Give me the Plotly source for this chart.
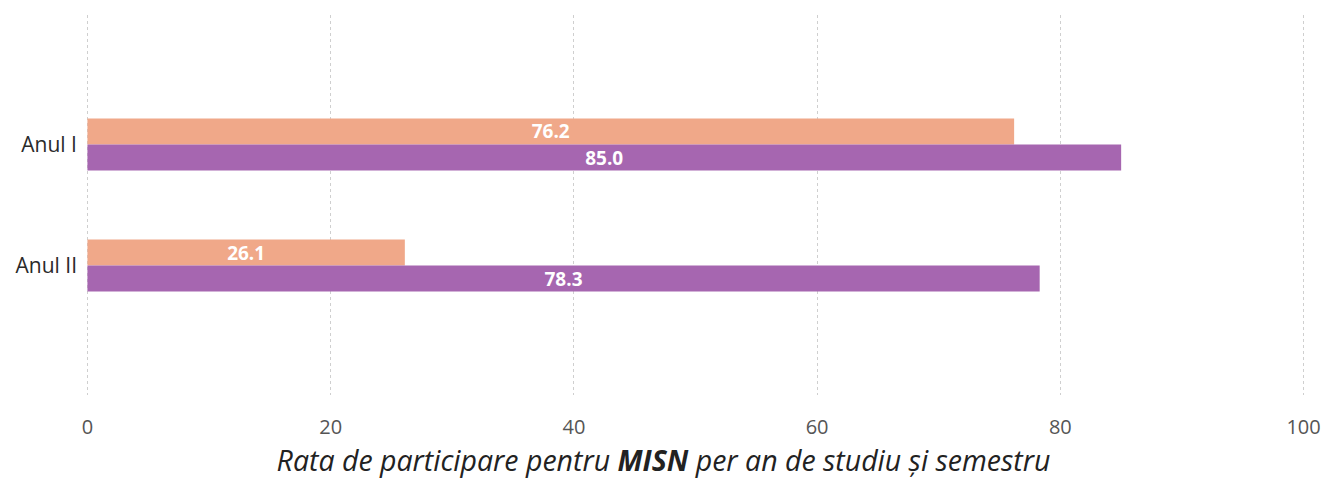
import plotly.graph_objects as go

categories = ["Anul I", "Anul II"]
sem1 = [76.2, 26.1]
sem2 = [85.0, 78.3]
series_names = ["Semestrul I", "Semestrul II"]
tick_vals = [0, 20, 40, 60, 80, 100]
title_text = "<i>Rata de participare pentru <b>MISN</b> per an de studiu și semestru</i>"

fig = go.Figure()
for name, vals, color in [(series_names[0], sem1, "#F0A889"), (series_names[1], sem2, "#A666B0")]:
    fig.add_trace(go.Bar(
        y=categories, x=vals, name=name, orientation="h",
        marker=dict(color=color, line=dict(width=0)),
        text=[f"{v:.1f}" for v in vals], textposition="inside",
        insidetextanchor="middle", constraintext="none",
        textfont=dict(color="white", size=19, family="Open Sans"),
        texttemplate="<b>%{text}</b>",
    ))

fig.update_layout(
    width=1327, height=481,
    margin=dict(l=85, r=21, t=15, b=86, autoexpand=False),
    barmode="group", bargap=0.57, bargroupgap=0,
    plot_bgcolor="white", paper_bgcolor="white",
    showlegend=False,
    font=dict(family="Open Sans", color="#333333"),
    title=dict(text=title_text, x=0.5, xref="container", xanchor="center",
               y=0.02, yref="container", yanchor="bottom",
               font=dict(size=28.5, color="#222222")),
    xaxis=dict(
        range=[-0.2, 100.2], tickvals=tick_vals,
        showgrid=True, gridcolor="#CFCFCF", griddash="dot", gridwidth=1,
        zeroline=False, showline=False, automargin=False,
        ticklabelstandoff=18,
        tickfont=dict(size=20, color="#555555"),
    ),
    yaxis=dict(
        range=[2.07, -1.07], automargin=False,
        showgrid=False, zeroline=False, showline=False,
        ticklabelstandoff=7,
        tickfont=dict(size=21, color="#2a2a2a"),
    ),
)

fig.write_html("out.html", config={"displayModeBar": False},
               post_script="document.body.style.margin='0';document.body.style.overflow='hidden';")
